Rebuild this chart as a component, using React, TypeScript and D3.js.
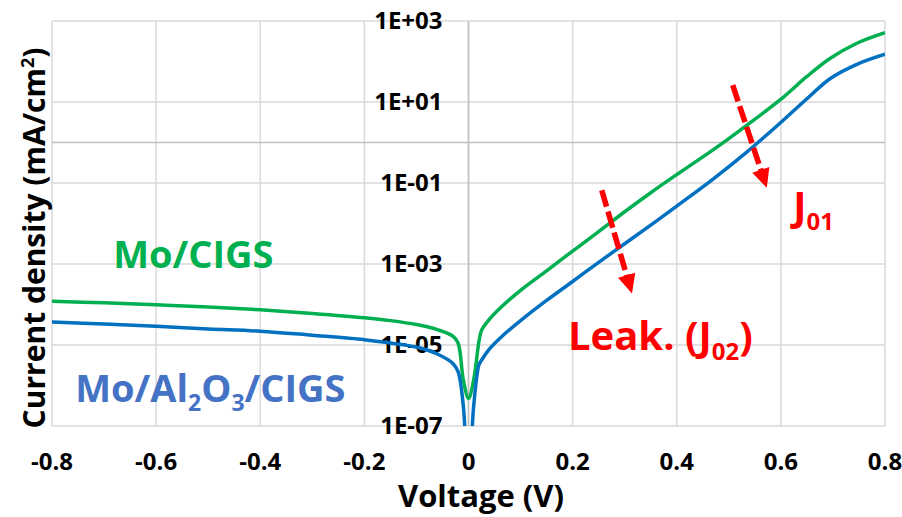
import React from "react";
import * as d3 from "d3";

const W = 902;
const H = 517;

const xTicks = [-0.8, -0.6, -0.4, -0.2, 0, 0.2, 0.4, 0.6, 0.8];
const xTickLabels = ["-0.8", "-0.6", "-0.4", "-0.2", "0", "0.2", "0.4", "0.6", "0.8"];
const yTicks = [1e3, 1e1, 1e-1, 1e-3, 1e-5, 1e-7];
const yTickLabels = ["1E+03", "1E+01", "1E-01", "1E-03", "1E-05", "1E-07"];

// Mo/CIGS (green)
const moCigsV = [-0.8, -0.7, -0.6, -0.5, -0.4, -0.3, -0.2, -0.15, -0.1, -0.06, -0.03, -0.02, -0.01, 0, 0.01, 0.02, 0.025, 0.04, 0.063, 0.1, 0.15, 0.2, 0.25, 0.3, 0.35, 0.406, 0.471, 0.535, 0.602, 0.65, 0.695, 0.746, 0.8];
const moCigsJ = [1.2e-4, 1.1e-4, 9.8e-5, 8.7e-5, 7.4e-5, 6.0e-5, 4.7e-5, 4.0e-5, 3.2e-5, 2.4e-5, 1.66e-5, 1.12e-5, 1.4e-6, 4.8e-7, 1.4e-6, 1.2e-5, 2.3e-5, 4.3e-5, 8.7e-5, 2.24e-4, 6.8e-4, 2.09e-3, 6.3e-3, 0.0195, 0.0575, 0.182, 0.676, 2.69, 12.3, 42.7, 120, 282, 513];

// Mo/Al2O3/CIGS (blue)
const moAlCigsV = [-0.8, -0.7, -0.6, -0.5, -0.4, -0.3, -0.2, -0.15, -0.1, -0.06, -0.03, -0.02, -0.01, 0, 0.01, 0.02, 0.025, 0.04, 0.063, 0.1, 0.15, 0.2, 0.25, 0.3, 0.35, 0.4, 0.471, 0.535, 0.602, 0.65, 0.695, 0.746, 0.8];
const moAlCigsJ = [3.7e-5, 3.3e-5, 2.9e-5, 2.5e-5, 2.2e-5, 1.74e-5, 1.35e-5, 1.12e-5, 8.9e-6, 6.0e-6, 3.5e-6, 2.2e-6, 3.2e-7, 3.2e-9, 3.2e-7, 3.2e-6, 4.2e-6, 7.9e-6, 1.58e-5, 4.0e-5, 1.26e-4, 3.7e-4, 1.1e-3, 3.16e-3, 9.1e-3, 0.0269, 0.129, 0.589, 3.31, 12.0, 38.0, 85.1, 151];

// Annotation arrows: [startV, startJ, tipV, tipJ]
const leakArrow = [0.256, 0.066, 0.314, 1.86e-4];
const j01Arrow = [0.5075, 26, 0.573, 0.076];

const FONT = "'Open Sans', 'DejaVu Sans', sans-serif";

const M = { left: 52, right: 885, top: 21, bottom: 426 };

function Arrow({ x1, y1, x2, y2 }: { x1: number; y1: number; x2: number; y2: number }) {
  const dx = x2 - x1;
  const dy = y2 - y1;
  const len = Math.sqrt(dx * dx + dy * dy);
  const ux = dx / len;
  const uy = dy / len;
  const headLen = 19;
  const headHalf = 9;
  const bx = x2 - ux * headLen;
  const by = y2 - uy * headLen;
  const px = -uy;
  const py = ux;
  return (
    <g>
      <line x1={x1} y1={y1} x2={bx + ux * 1} y2={by + uy * 1} stroke="#ff0000" strokeWidth={5.5} strokeDasharray="17 5" />
      <polygon
        points={`${x2},${y2} ${bx + px * headHalf},${by + py * headHalf} ${bx - px * headHalf},${by - py * headHalf}`}
        fill="#ff0000"
      />
    </g>
  );
}

export default function App() {
  const x = d3.scaleLinear().domain([-0.8, 0.8]).range([M.left, M.right]);
  const y = d3.scaleLog().domain([1e-7, 1e3]).range([M.bottom, M.top]);

  const line = d3
    .line<[number, number]>()
    .x((d) => x(d[0]))
    .y((d) => y(d[1]))
    .curve(d3.curveCatmullRom.alpha(0.5));

  const green = line(moCigsV.map((v, i) => [v, moCigsJ[i]] as [number, number])) || "";
  const blue = line(moAlCigsV.map((v, i) => [v, moAlCigsJ[i]] as [number, number])) || "";

  const x0 = x(0);
  const y1 = y(1);

  return (
    <svg width={W} height={H} style={{ position: "absolute", left: 0, top: 0, background: "#fff" }} fontFamily={FONT}>
      <defs>
        <clipPath id="plot">
          <rect x={M.left} y={M.top} width={M.right - M.left} height={M.bottom - M.top} />
        </clipPath>
      </defs>
      {/* gridlines */}
      {xTicks.map((t) => (
        <line key={"vx" + t} x1={x(t)} x2={x(t)} y1={M.top} y2={M.bottom} stroke="#d9d9d9" strokeWidth={1.5} />
      ))}
      {yTicks.map((t) => (
        <line key={"hy" + t} x1={M.left} x2={M.right} y1={y(t)} y2={y(t)} stroke="#d9d9d9" strokeWidth={1.5} />
      ))}
      {/* axes */}
      <line x1={x0} x2={x0} y1={M.top} y2={M.bottom} stroke="#bfbfbf" strokeWidth={1.5} />
      <line x1={M.left} x2={M.right} y1={y1} y2={y1} stroke="#bfbfbf" strokeWidth={1.5} />

      {/* y tick labels */}
      {yTicks.map((t, i) => (
        <text key={"yl" + t} x={x0 - 26} y={y(t)} dy="0.35em" textAnchor="end" fontSize={24} fontWeight={700} fill="#000">
          {yTickLabels[i]}
        </text>
      ))}
      {/* x tick labels */}
      {xTicks.map((t, i) => (
        <text key={"xl" + t} x={x(t)} y={470} textAnchor="middle" fontSize={24} fontWeight={700} fill="#000">
          {xTickLabels[i]}
        </text>
      ))}

      {/* curves */}
      <g clipPath="url(#plot)">
        <path d={green} fill="none" stroke="#00b050" strokeWidth={3.5} />
        <path d={blue} fill="none" stroke="#0070c0" strokeWidth={3.5} />
      </g>

      {/* axis titles */}
      <text x={481} y={507} textAnchor="middle" fontSize={31} fontWeight={700} fill="#000">
        Voltage (V)
      </text>
      <text transform={`translate(45,238) rotate(-90)`} textAnchor="middle" fontSize={30} fontWeight={700} fill="#000">
        Current density (mA/cm<tspan dy={-11} fontSize={18}>2</tspan><tspan dy={11}>)</tspan>
      </text>

      {/* annotations */}
      <text x={x(-0.6825)} y={y(7.8e-4)} fontSize={38} fontWeight={700} fill="#00b050">
        Mo/CIGS
      </text>
      <text x={x(-0.7555)} y={y(3.9e-7)} fontSize={38} fontWeight={700} fill="#4472c4">
        Mo/Al<tspan dy={9} fontSize={23}>2</tspan>
        <tspan dy={-9}>O</tspan>
        <tspan dy={9} fontSize={23}>3</tspan>
        <tspan dy={-9}>/CIGS</tspan>
      </text>
      <text x={x(0.191)} y={y(7.4e-6)} fontSize={40} fontWeight={700} fill="#ff0000">
        Leak. (J<tspan dy={10} fontSize={24}>02</tspan>
        <tspan dy={-10}>)</tspan>
      </text>
      <text x={x(0.6237)} y={y(0.012)} fontSize={40} fontWeight={700} fill="#ff0000">
        J<tspan dy={10} fontSize={24}>01</tspan>
      </text>

      <Arrow x1={x(leakArrow[0])} y1={y(leakArrow[1])} x2={x(leakArrow[2])} y2={y(leakArrow[3])} />
      <Arrow x1={x(j01Arrow[0])} y1={y(j01Arrow[1])} x2={x(j01Arrow[2])} y2={y(j01Arrow[3])} />
    </svg>
  );
}
